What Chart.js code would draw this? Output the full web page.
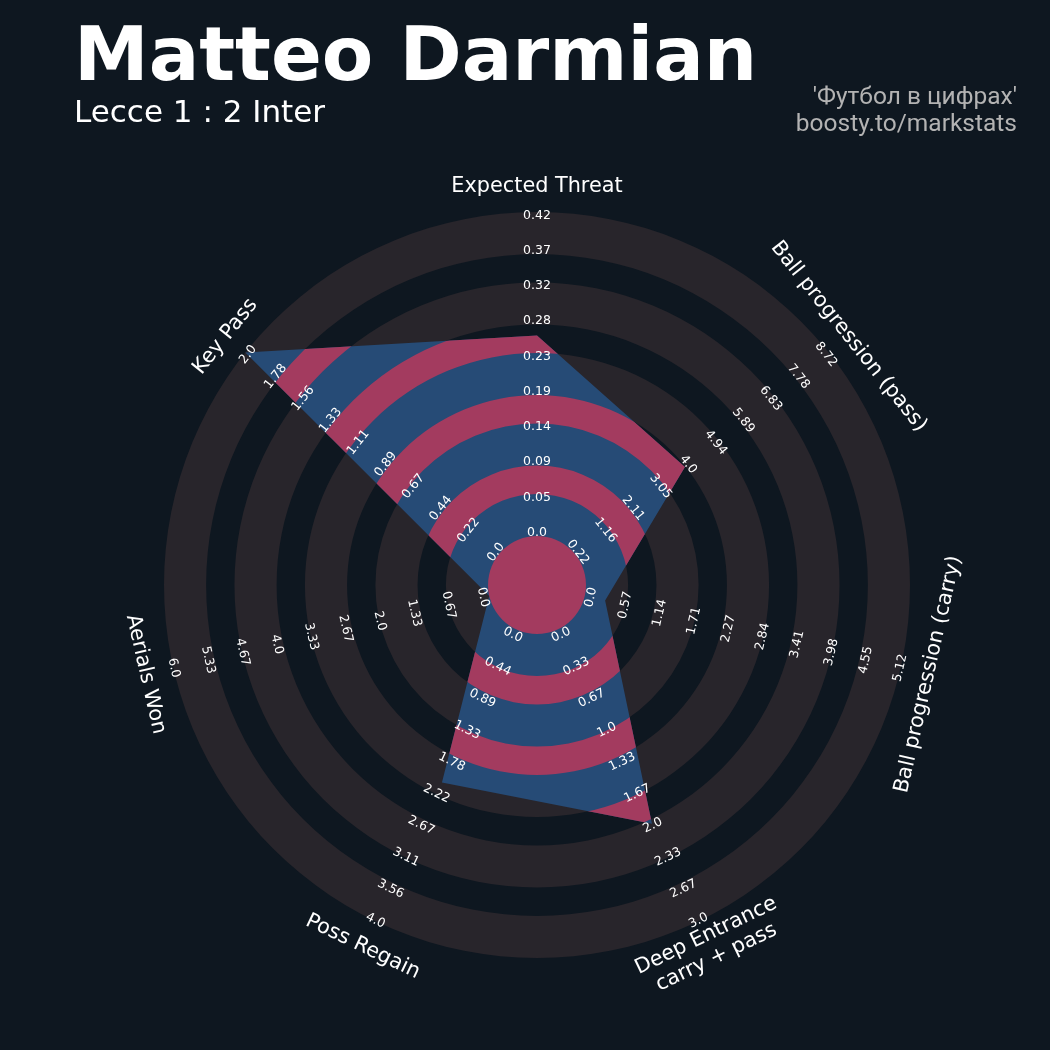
<!DOCTYPE html>
<html>
<head>
<meta charset="utf-8">
<title>Matteo Darmian radar</title>
<script src="https://cdn.jsdelivr.net/npm/chart.js@4.4.1/dist/chart.umd.min.js"></script>
<style>
html, body { margin: 0; padding: 0; background: #0e1720; }
#wrap { position: relative; width: 1050px; height: 1050px; }
.txt { position: absolute; white-space: nowrap; line-height: 1; }
#title { left: 74px; top: 10px; font: bold 75px "DejaVu Sans"; color: #ffffff; }
#sub { left: 74px; top: 93px; font: 31px "DejaVu Sans"; color: #ffffff; }
.credit { right: 33px; font: 24.5px Roboto; color: #b3b3b3; text-align: right; }
</style>
</head>
<body>
<div id="wrap">
<canvas id="radarChart"></canvas>
<div class="txt" id="title">Matteo Darmian</div>
<div class="txt" id="sub">Lecce 1 : 2 Inter</div>
<div class="txt credit" style="top:81px">'Футбол в цифрах'</div>
<div class="txt credit" style="top:108px">boosty.to/markstats</div>
</div>
<script>
// params clockwise from the top
const params = ["Expected Threat", "Ball progression (pass)", "Ball progression (carry)",
  ["Deep Entrance", "carry + pass"], "Poss Regain", "Aerials Won", "Key Pass"]

const lowRange = [0, 0.22, 0, 0, 0, 0, 0]
const highRange = [0.42, 8.72, 5.12, 3.0, 4.0, 6.0, 2.0]
const playerValues = [0.26, 3.9, 0.33, 2.0, 2.1, 0, 2.0]

const ticksThreat = ["0.0","0.05","0.09","0.14","0.19","0.23","0.28","0.32","0.37","0.42"]
const ticksPass = ["0.22","1.16","2.11","3.05","4.0","4.94","5.89","6.83","7.78","8.72"]
const ticksCarry = ["0.0","0.57","1.14","1.71","2.27","2.84","3.41","3.98","4.55","5.12"]
const ticksDeep = ["0.0","0.33","0.67","1.0","1.33","1.67","2.0","2.33","2.67","3.0"]
const ticksRegain = ["0.0","0.44","0.89","1.33","1.78","2.22","2.67","3.11","3.56","4.0"]
const ticksAerial = ["0.0","0.67","1.33","2.0","2.67","3.33","4.0","4.67","5.33","6.0"]
const ticksKeyPass = ["0.0","0.22","0.44","0.67","0.89","1.11","1.33","1.56","1.78","2.0"]
const tickLabels = [ticksThreat, ticksPass, ticksCarry, ticksDeep, ticksRegain, ticksAerial, ticksKeyPass]

// every axis has its own range, so the chart runs on 0..1
const normValues = playerValues.map((v, i) => (v - lowRange[i]) / (highRange[i] - lowRange[i]))

const RING = "#28252b"
const BLUE = "#264b76"
const PINK = "#a33b5f"

// band edges in scale units (0 = edge of centre circle, 1 = outside)
const greyBands = [[0, 0.13], [0.2175, 0.3475], [0.435, 0.565], [0.6525, 0.7825], [0.87, 1]]
const pinkBands = [[0.13, 0.2175], [0.3475, 0.435], [0.565, 0.6525], [0.7825, 0.87]]

function annulus(ctx, x, y, r1, r2) {
  ctx.beginPath()
  ctx.arc(x, y, r2, 0, Math.PI * 2)
  ctx.arc(x, y, r1, Math.PI * 2, 0, true)
  ctx.closePath()
  ctx.fill()
}

function textRot(angle) {
  let a = angle
  while (a > Math.PI) a -= Math.PI * 2
  while (a <= -Math.PI) a += Math.PI * 2
  return a <= 0 ? a + Math.PI / 2 : a - Math.PI / 2
}

const radarRings = {
  id: "radarRings",
  beforeDatasetsDraw(chart) {
    const ctx = chart.ctx
    const s = chart.scales.r
    ctx.save()
    ctx.fillStyle = RING
    greyBands.forEach(b => {
      annulus(ctx, s.xCenter, s.yCenter, s.getDistanceFromCenterForValue(b[0]), s.getDistanceFromCenterForValue(b[1]))
    })
    ctx.restore()
  },
  afterDatasetsDraw(chart) {
    const ctx = chart.ctx
    const s = chart.scales.r
    const pts = chart.getDatasetMeta(0).data
    ctx.save()
    ctx.beginPath()
    pts.forEach((p, i) => { if (i === 0) ctx.moveTo(p.x, p.y); else ctx.lineTo(p.x, p.y) })
    ctx.closePath()
    ctx.clip()
    ctx.fillStyle = PINK
    pinkBands.forEach(b => {
      annulus(ctx, s.xCenter, s.yCenter, s.getDistanceFromCenterForValue(b[0]), s.getDistanceFromCenterForValue(b[1]))
    })
    ctx.restore()

    ctx.save()
    ctx.fillStyle = PINK
    ctx.beginPath()
    ctx.arc(s.xCenter, s.yCenter, s.getDistanceFromCenterForValue(0), 0, Math.PI * 2)
    ctx.fill()
    ctx.restore()
  },
  afterDraw(chart) {
    const ctx = chart.ctx
    const s = chart.scales.r
    ctx.save()
    ctx.fillStyle = "#ffffff"
    ctx.textAlign = "center"
    ctx.textBaseline = "middle"

    ctx.font = '12.5px "DejaVu Sans"'
    tickLabels.forEach((list, i) => {
      list.forEach((t, k) => {
        // labels sit a touch inside the ring edges
        const p = s.getPointPositionForValue(i, 0.015 + 0.979 * k / (list.length - 1))
        ctx.save()
        ctx.translate(p.x, p.y)
        ctx.rotate(textRot(p.angle))
        ctx.fillText(t, 0, 1.5)
        ctx.restore()
      })
    })

    ctx.font = '20.8px "DejaVu Sans"'
    params.forEach((name, i) => {
      const p = s.getPointPosition(i, s.drawingArea + 27)
      ctx.save()
      ctx.translate(p.x, p.y)
      ctx.rotate(textRot(p.angle))
      if (Array.isArray(name)) {
        ctx.fillText(name[0], 0, -10.5)
        ctx.fillText(name[1], 0, 13.5)
      } else {
        ctx.fillText(name, 0, 1.5)
      }
      ctx.restore()
    })
    ctx.restore()
  }
}

const ctx = document.getElementById("radarChart")

const radarChart = new Chart(ctx, {
  type: "radar",
  data: {
    labels: params,
    datasets: [{
      label: "Matteo Darmian",
      data: normValues,
      backgroundColor: BLUE,
      borderWidth: 0,
      pointRadius: 0,
      fill: "start"
    }]
  },
  options: {
    responsive: true,
    maintainAspectRatio: false,
    animation: false,
    layout: { padding: { left: 164, right: 140, top: 212, bottom: 92 } },
    plugins: { legend: { display: false }, tooltip: { enabled: false } },
    elements: { line: { tension: 0 } },
    scales: {
      r: {
        min: -0.1512,
        max: 1,
        grid: { display: false },
        angleLines: { display: false },
        ticks: { display: false },
        pointLabels: { display: false }
      }
    }
  },
  plugins: [radarRings]
})
</script>
</body>
</html>
